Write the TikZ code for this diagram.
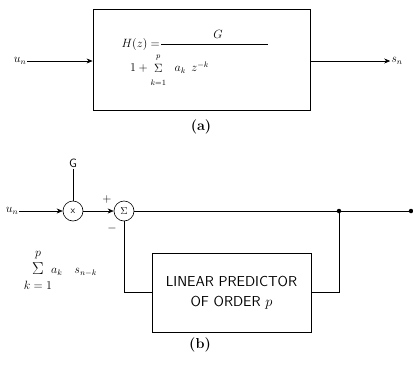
\documentclass[tikz,border=0pt]{standalone}
\usepackage{amsmath}
\usetikzlibrary{positioning,calc,arrows.meta}
\tikzset{ARROW/.style={semithick, -{Stealth[length=6pt,width=5pt]}}}
\tikzset{LINE/.style={semithick}}
\tikzset{BLOCK/.style={rectangle, draw, thick, align=center, font=\sffamily\Large}}
\tikzset{JUNCTION/.style={circle, draw, semithick, minimum size=20pt, inner sep=0pt}}
\tikzset{DOT/.style={circle, fill, inner sep=0pt, minimum size=4.5pt}}
\tikzset{LABEL/.style={font=\large, inner sep=1pt}}
\newcommand{\smallsum}{\mathop{\Sigma}\limits^{\raisebox{4pt}{$\scriptstyle p$}}_{\raisebox{-5pt}{$\scriptstyle k=1$}}}

\begin{document}
\begin{tikzpicture}[x=1pt, y=-1pt]
    \useasboundingbox (0,0) rectangle (413,365);

    % (a) all-pole filter
    \node[BLOCK, minimum width=217pt, minimum height=101pt] (n_filter) at (201.5,59.5) {};
    \node[LABEL, anchor=east] (n_hz) at (161,44) {$H(z) =$};
    \coordinate (frac_end) at (268,44);
    \draw[LINE] (n_hz.east) -- (frac_end);
    \node[LABEL] (n_num) at (218,34.5) {$G$};
    \node[LABEL, anchor=west] (n_den) at (129,70) {$1+\smallsum\;\; a_k\;\, z^{-k}$};
    \node[LABEL] (n_un_a) at (20,61) {$u_n$};
    \node[LABEL] (n_sn_a) at (397,61) {$s_n$};
    \draw[ARROW] (n_un_a) -- (n_filter.west |- n_un_a);
    \draw[ARROW] (n_filter.east |- n_sn_a) -- (n_sn_a);
    \node[font=\Large] at (201,127) {\textbf{(a)}};

    % (b) predictor loop
    \node[LABEL] (n_un_b) at (12,211) {$u_n$};
    \node[JUNCTION] (n_mult) at (73,211) {\sffamily x};
    \node[JUNCTION] (n_sum) at (124,211) {$\Sigma$};
    \node[LABEL] (n_gain) at (73,163) {\sffamily G};
    \node[LABEL] at (107,199) {$+$};
    \node[LABEL] at (112,228) {$-$};
    \node[DOT] (n_branch) at (339,211) {};
    \node[DOT] (n_out) at (411,211) {};
    \node[BLOCK, minimum width=159pt, minimum height=79pt] (n_pred) at (231.5,292.5) {LINEAR PREDICTOR\\[2pt]OF ORDER $p$};

    % past-sample sum beside the loop
    \node[font=\LARGE, inner sep=1pt] (n_sigma) at (38,269) {$\Sigma$};
    \node[LABEL, above=2pt of n_sigma] {$p$};
    \node[LABEL, below=4pt of n_sigma] {$k=1$};
    \node[LABEL, anchor=west] at ($(n_sigma.east)+(5,3)$) {$a_k\quad s_{n-k}$};

    \draw[LINE] (n_gain) -- (n_mult);
    \draw[ARROW] (n_un_b) -- (n_mult);
    \draw[ARROW] (n_mult) -- (n_sum);
    \draw[LINE] (n_sum) -- (n_branch) -- (n_out);
    \draw[LINE] (n_branch) |- (n_pred.east);
    \draw[LINE] (n_pred.west) -| (n_sum.south);
    \node[font=\Large] at (200,345) {\textbf{(b)}};

\end{tikzpicture}
\end{document}
